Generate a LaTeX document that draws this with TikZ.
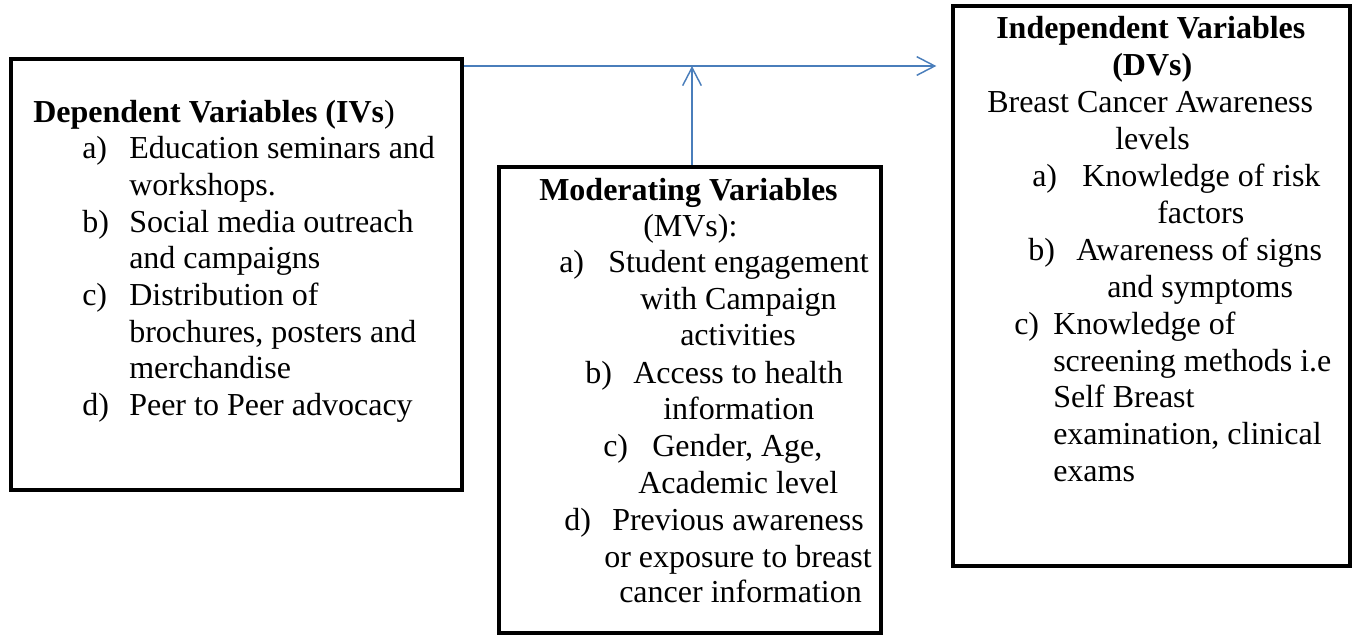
\documentclass[tikz,border=0pt]{standalone}
\usepackage{fontspec}
\setmainfont{Liberation Serif}
\usetikzlibrary{arrows.meta,fit}
\definecolor{conn}{RGB}{74,126,187}
\tikzset{
  box/.style={draw=black, line width=3pt, inner sep=0pt},
  txt/.style={anchor=base west, inner sep=0pt, font=\fontsize{24}{27.6}\selectfont},
  ttl/.style={txt, font=\fontsize{24}{27.6}\selectfont\bfseries},
  arr/.style={draw=conn, line width=1.1pt, -{Straight Barb[length=13.5pt,width=14pt,line width=1.1pt]}}
}
\newcommand\tline[4]{\node[txt] (#1) at (#2,#3) {#4};}
\begin{document}
\begin{tikzpicture}[x=0.75pt,y=-0.75pt]
\useasboundingbox (0,0) rectangle (1356,636);
% boxes
\node[box, fit={(11,59) (462,490)}] (L) {};
\node[box, fit={(499,167) (881,633)}] (M) {};
\node[box, fit={(953,6) (1350,566)}] (R) {};
% left box text
\node[ttl] (lt) at (33,122) {Dependent Variables (IVs\textmd{)}};
\tline{la}{82}{158}{a)}  \tline{la1}{129}{158}{Education seminars and}
\tline{la2}{129}{195}{workshops.}
\tline{lb}{82}{232}{b)}  \tline{lb1}{129}{232}{Social media outreach}
\tline{lb2}{129}{268}{and campaigns}
\tline{lc}{82}{305}{c)}  \tline{lc1}{129}{305}{Distribution of}
\tline{lc2}{129}{342}{brochures, posters and}
\tline{lc3}{129}{378}{merchandise}
\tline{ld}{82}{415}{d)}  \tline{ld1}{129}{415}{Peer to Peer advocacy}
% middle box text
\node[ttl] (mt) at (539,200) {Moderating Variables};
\tline{mt2}{643}{236}{(MVs):}
\tline{ma}{559}{272}{a)} \tline{ma1}{608}{272}{Student engagement}
\tline{ma2}{640}{309}{with Campaign}
\tline{ma3}{680}{345}{activities}
\tline{mb}{585}{383}{b)} \tline{mb1}{633}{383}{Access to health}
\tline{mb2}{663}{419}{information}
\tline{mc}{603}{456}{c)} \tline{mc1}{652}{456}{Gender, Age,}
\tline{mc2}{638}{493}{Academic level}
\tline{md}{564}{530}{d)} \tline{md1}{612}{530}{Previous awareness}
\tline{md2}{604}{567}{or exposure to breast}
\tline{md3}{619}{602}{cancer information}
% right box text
\node[ttl] (rt) at (996,38) {Independent Variables};
\node[ttl] (rt2) at (1112,75) {(DVs)};
\tline{rs1}{987}{112}{Breast Cancer Awareness}
\tline{rs2}{1115}{149}{levels}
\tline{ra}{1032}{186}{a)} \tline{ra1}{1082}{186}{Knowledge of risk}
\tline{ra2}{1157}{223}{factors}
\tline{rb}{1028}{260}{b)} \tline{rb1}{1076}{260}{Awareness of signs}
\tline{rb2}{1107}{297}{and symptoms}
\tline{rc}{1014}{334}{c)} \tline{rc1}{1053}{334}{Knowledge of}
\tline{rc2}{1053}{371}{screening methods i.e}
\tline{rc3}{1053}{407}{Self Breast}
\tline{rc4}{1053}{444}{examination, clinical}
\tline{rc5}{1053}{481}{exams}
% connectors
\coordinate (j) at (692,66);
\draw[arr, shorten >=11pt] (L.east |- j) -- (R.west |- j);
\draw[arr] (M.north -| j) -- (j);
\end{tikzpicture}
\end{document}
